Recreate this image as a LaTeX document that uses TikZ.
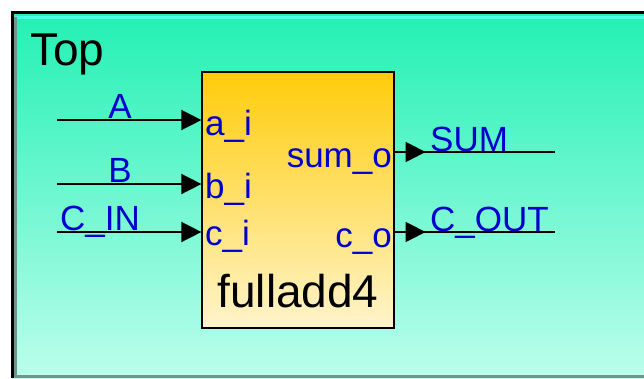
\documentclass[tikz,border=0pt]{standalone}
\usepackage{fontspec}
\setmainfont{Liberation Sans}
\usetikzlibrary{arrows.meta, positioning}
\definecolor{netblue}{RGB}{0,0,204}
\definecolor{topgreen}{RGB}{34,240,180}
\definecolor{botgreen}{RGB}{188,254,236}
\definecolor{topgold}{RGB}{255,204,10}
\definecolor{botgold}{RGB}{255,244,204}
\definecolor{edgegray}{RGB}{110,150,140}

\begin{document}
\begin{tikzpicture}[
    x=1pt, y=-1pt,
    block/.style={rectangle, draw, line width=1.2pt, top color=topgold, bottom color=botgold, minimum width=192pt, minimum height=256pt, inner sep=0pt},
    wire/.style={line width=1.5pt},
    arrow/.style={-{Triangle[length=20pt,width=20pt]}, line width=1.5pt},
    net/.style={text=netblue, font=\fontsize{35}{40}\selectfont, inner sep=0pt},
    title/.style={font=\fontsize{46}{50}\selectfont, inner sep=0pt}
]
\useasboundingbox (0,0) rectangle (644,378);
\fill[white] (0,0) rectangle (644,378);
\clip (0,0) rectangle (644,378);

% frame of Top
\fill[top color=topgreen, bottom color=botgreen] (12,12) rectangle (660,378);
\draw[line width=3pt, color={rgb,255:red,70;green,255;blue,228}] (15,17) -- (660,17);
\draw[line width=3pt, edgegray] (15.5,17) -- (15.5,376.5) -- (660,376.5);
\draw[line width=3pt] (12,378) -- (12,12) -- (660,12);
\node[title, anchor=base west] (t) at (30,65) {Top};

\node[block] (fa) at (298,200) {};
\node[title, anchor=base] (n) at (298,307) {fulladd4};

\coordinate (ia) at (57,120);
\coordinate (ib) at (57,184);
\coordinate (ic) at (57,232);
\coordinate (os) at (555,152);
\coordinate (oc) at (555,232);

\draw[arrow] (ia) -- (fa.west |- ia);
\draw[arrow] (ib) -- (fa.west |- ib);
\draw[arrow] (ic) -- (fa.west |- ic);
\draw[wire] (fa.east |- os) -- (os);
\draw[wire] (fa.east |- oc) -- (oc);
\draw[arrow] (fa.east |- os) -- ++(31,0);
\draw[arrow] (fa.east |- oc) -- ++(31,0);

\node[net, anchor=base] (la) at (120,118) {A};
\node[net, anchor=base] (lb) at (120,182) {B};
\node[net, anchor=base west] (lc) at (60,230) {C\_IN};
\node[net, anchor=base west] (ls) at (430,151) {SUM};
\node[net, anchor=base west] (lo) at (430,231) {C\_OUT};

\node[net, anchor=base west] (pa) at (205,135) {a\_i};
\node[net, anchor=base west] (pb) at (205,198) {b\_i};
\node[net, anchor=base west] (pc) at (205,245) {c\_i};
\node[net, anchor=base east] (ps) at (392,167) {sum\_o};
\node[net, anchor=base east] (pco) at (392,247) {c\_o};
\end{tikzpicture}
\end{document}
